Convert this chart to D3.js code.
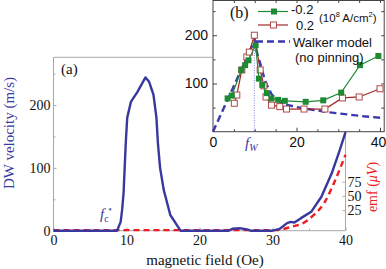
<!DOCTYPE html>
<html>
<head>
<meta charset="utf-8">
<script src="https://cdn.jsdelivr.net/npm/d3@7"></script>
<style>
body { margin: 0; background: #fff; }
svg { display: block; }
</style>
</head>
<body>
<div id="chart"></div>
<script>
// (a) main panel: DW velocity and emf vs magnetic field
var fieldV = [0, 8.7, 9.2, 9.4, 9.6, 9.9, 10.1, 10.6, 11.5, 12.6, 13.1, 13.7, 14.1, 14.3, 14.6, 15.1, 16, 17.4,
	24, 24.5, 25.5, 26.5, 27, 30, 31, 32, 32.5, 33, 33.9, 35.3, 36.7, 38.1, 39.2, 40];
var velocity = [0, 0, 14, 33, 60, 140, 180, 205, 221, 244, 237, 216, 180, 140, 100, 65, 25, 0,
	0, 3, 4, 2, 0, 0, 3, 12, 14, 13, 20, 30, 54, 91, 128, 157];

var fieldE = [0, 30.5, 32.6, 34.3, 35.7, 37.1, 38.5, 40];
var emf = [-10, -10, -4, 3, 17, 38, 75, 122];

// (b) inset: measured velocity for two currents, and Walker model
var fieldNeg = [3.5, 4.5, 6.8, 7.7, 8.5, 10.2, 11, 11.8, 12.9, 14, 15.6, 17.2, 22.2, 26.4, 30.7, 35.2, 39.6];
var velNeg = [69, 75, 128, 138, 148, 179, 110, 97, 80, 69, 66, 64, 62, 65, 81, 138, 157];

var fieldPos = [5.1, 5.7, 6.9, 8.1, 8.7, 9.9, 11.3, 12.2, 12.7, 14, 16, 17.6, 21.8, 26.8, 31, 35, 40];
var velPos = [59, 76, 128, 155, 165, 200, 128, 95, 72, 55, 52, 47, 47, 47, 70, 72, 89];

var fieldW = [0, 10, 10.3, 10.8, 11.3, 12, 12.5, 13, 14, 15, 17, 20, 22, 25, 27, 30, 33, 36, 41];
var velW = [0, 190, 172, 155, 142, 120, 105, 95, 78, 68, 57, 51, 48, 44, 41, 38, 35, 32, 28];
var fW = 9.9;

var xTicksA = [0, 10, 20, 30, 40];
var yTicksA = [0, 100, 200];
var emfTicks = [25, 50, 75];
var xTicksB = [0, 20, 40];
var yTicksB = [100, 200];

var width = 386, height = 269;
var serif = "'Liberation Serif', 'DejaVu Serif', serif";
var sans = "'Liberation Sans', Arial, sans-serif";
var blue = "#38389e", red = "#ec1c24", green = "#1e8a34", maroon = "#a02828";

var svg = d3.select("#chart")
	.append("svg")
	.attr("width", width)
	.attr("height", height);

// ---------- main panel ----------
var x = d3.scaleLinear().domain([0, 40]).range([53.5, 345.5]);
var y = d3.scaleLinear().domain([0, 276]).range([230.7, 57.3]);
var yE = d3.scaleLinear().domain([-11, 293]).range([230.7, 57.3]);

var frame = "#a8a8a8";

// ticks (inside)
var gx = svg.append("g")
	.attr("transform", "translate(0," + y(0) + ")")
	.call(d3.axisBottom(x).tickValues(xTicksA).tickSize(-3).tickPadding(6));
svg.append("g")
	.attr("transform", "translate(0," + y(0) + ")")
	.call(d3.axisBottom(x).tickValues([5, 15, 25, 35]).tickSize(-2).tickFormat(""));
var gy = svg.append("g")
	.attr("transform", "translate(" + x(0) + ",0)")
	.call(d3.axisLeft(y).tickValues(yTicksA).tickSize(-3).tickPadding(3));
svg.append("g")
	.attr("transform", "translate(" + x(0) + ",0)")
	.call(d3.axisLeft(y).tickValues([50, 150, 250]).tickSize(-2).tickFormat(""));
var ge = svg.append("g")
	.attr("transform", "translate(" + x(40) + ",0)")
	.call(d3.axisRight(yE).tickValues(emfTicks).tickSize(-3).tickPadding(2));

svg.selectAll(".domain").remove();
svg.selectAll(".tick line").attr("stroke", frame);
[gx, gy, ge].forEach(function(g) {
	g.selectAll("text")
		.attr("fill", "#111")
		.style("font-family", serif)
		.style("font-size", "14px");
});
gx.selectAll("text").attr("dy", "0.6em");

// frame lines
svg.append("path")
	.attr("fill", "none")
	.attr("stroke", frame)
	.attr("stroke-width", 1)
	.attr("d", "M212," + y(276) + "H" + x(0) + "V" + y(0) + "H" + x(40) + "V131.7");

// emf (red dashed) under velocity
svg.append("path")
	.datum(d3.zip(fieldE, emf))
	.attr("fill", "none")
	.attr("stroke", red)
	.attr("stroke-width", 2.4)
	.attr("stroke-dasharray", "6,4")
	.attr("d", d3.line()
		.x(function(d) { return x(d[0]) })
		.y(function(d) { return yE(d[1]) })
		.curve(d3.curveMonotoneX));

svg.append("path")
	.datum(d3.zip(fieldV, velocity))
	.attr("fill", "none")
	.attr("stroke", blue)
	.attr("stroke-width", 2.4)
	.attr("stroke-linejoin", "round")
	.attr("d", d3.line()
		.x(function(d) { return x(d[0]) })
		.y(function(d) { return y(d[1]) }));

// labels
svg.append("text")
	.attr("transform", "translate(14,133) rotate(-90)")
	.attr("text-anchor", "middle")
	.attr("fill", blue)
	.style("font-family", serif)
	.style("font-size", "15px")
	.text("DW velocity (m/s)");

svg.append("text")
	.attr("x", 205).attr("y", 265)
	.attr("text-anchor", "middle")
	.attr("fill", "#111")
	.style("font-family", serif)
	.style("font-size", "15px")
	.text("magnetic field (Oe)");

var emfLab = svg.append("text")
	.attr("transform", "translate(377,187) rotate(-90)")
	.attr("text-anchor", "middle")
	.attr("fill", red)
	.style("font-family", serif)
	.style("font-size", "14px");
emfLab.append("tspan").text("emf (");
emfLab.append("tspan").style("font-style", "italic").text("μV");
emfLab.append("tspan").text(")");

svg.append("text")
	.attr("x", 61).attr("y", 74)
	.attr("fill", "#111")
	.style("font-family", serif)
	.style("font-size", "15px")
	.text("(a)");

var fc = svg.append("text")
	.attr("x", 100).attr("y", 219)
	.attr("fill", blue)
	.style("font-family", serif)
	.style("font-size", "15px");
fc.append("tspan").style("font-style", "italic").text("f");
fc.append("tspan").attr("dy", 3).style("font-size", "10px").text("c");
svg.append("text")
	.attr("x", 110).attr("y", 212)
	.attr("text-anchor", "middle")
	.attr("fill", blue)
	.style("font-family", "'DejaVu Sans', sans-serif")
	.style("font-size", "9px")
	.text("\u22C6");

// ---------- inset ----------
var xi = d3.scaleLinear().domain([0, 41]).range([213, 384.2]);
var yi = d3.scaleLinear().domain([0, 272]).range([131.7, 0.5]);
var ink = "#444";

svg.append("rect")
	.attr("x", xi(0)).attr("y", yi(272))
	.attr("width", xi(41) - xi(0))
	.attr("height", yi(0) - yi(272))
	.attr("fill", "#fff")
	.attr("stroke", ink)
	.attr("stroke-width", 1);

var inset = svg.append("g").attr("class", "inset");
var ib = inset.append("g").attr("transform", "translate(0," + yi(0) + ")")
	.call(d3.axisBottom(xi).tickValues(xTicksB).tickSize(-4).tickPadding(5));
inset.append("g").attr("transform", "translate(0," + yi(0) + ")")
	.call(d3.axisBottom(xi).tickValues([5, 10, 15, 25, 30, 35]).tickSize(-2.5).tickFormat(""));
inset.append("g").attr("transform", "translate(0," + yi(272) + ")")
	.call(d3.axisTop(xi).tickValues([5, 10, 15, 20, 25, 30, 35, 40]).tickSize(-2.5).tickFormat(""));
var il = inset.append("g").attr("transform", "translate(" + xi(0) + ",0)")
	.call(d3.axisLeft(yi).tickValues(yTicksB).tickSize(-4).tickPadding(5));
inset.append("g").attr("transform", "translate(" + xi(0) + ",0)")
	.call(d3.axisLeft(yi).tickValues([50, 150, 250]).tickSize(-2.5).tickFormat(""));
inset.append("g").attr("transform", "translate(" + xi(41) + ",0)")
	.call(d3.axisRight(yi).tickValues([50, 100, 150, 200, 250]).tickSize(-3).tickFormat(""));

inset.selectAll(".domain").remove();
inset.selectAll(".tick line").attr("stroke", ink);
[ib, il].forEach(function(g) {
	g.selectAll("text")
		.attr("fill", "#111")
		.style("font-family", sans)
		.style("font-size", "14px");
});
ib.selectAll("text").filter(function(d) { return d === 40; }).attr("dx", "-0.15em");

// Walker model, then fW marker
svg.append("path")
	.datum(d3.zip(fieldW, velW))
	.attr("fill", "none")
	.attr("stroke", "#3a3aae")
	.attr("stroke-width", 2.4)
	.attr("stroke-dasharray", "7,4")
	.attr("d", d3.line()
		.x(function(d) { return xi(d[0]) })
		.y(function(d) { return yi(d[1]) }));

svg.append("line")
	.attr("x1", xi(fW)).attr("x2", xi(fW))
	.attr("y1", yi(190)).attr("y2", yi(0))
	.attr("stroke", "#5a5ad8")
	.attr("stroke-width", 0.8)
	.attr("stroke-dasharray", "1,1.5");

// +0.2 series (open squares)
svg.append("path")
	.datum(d3.zip(fieldPos, velPos))
	.attr("fill", "none")
	.attr("stroke", maroon)
	.attr("stroke-width", 1.2)
	.attr("d", d3.line()
		.x(function(d) { return xi(d[0]) })
		.y(function(d) { return yi(d[1]) }));
svg.selectAll(".sqPos")
	.data(d3.zip(fieldPos, velPos))
	.enter().append("rect")
	.attr("class", "sqPos")
	.attr("x", function(d) { return xi(d[0]) - 3 })
	.attr("y", function(d) { return yi(d[1]) - 3 })
	.attr("width", 6).attr("height", 6)
	.attr("fill", "#fff")
	.attr("stroke", "#b04848")
	.attr("stroke-width", 1);

// -0.2 series (filled squares)
svg.append("path")
	.datum(d3.zip(fieldNeg, velNeg))
	.attr("fill", "none")
	.attr("stroke", green)
	.attr("stroke-width", 1.2)
	.attr("d", d3.line()
		.x(function(d) { return xi(d[0]) })
		.y(function(d) { return yi(d[1]) }));
svg.selectAll(".sqNeg")
	.data(d3.zip(fieldNeg, velNeg))
	.enter().append("rect")
	.attr("class", "sqNeg")
	.attr("x", function(d) { return xi(d[0]) - 3 })
	.attr("y", function(d) { return yi(d[1]) - 3 })
	.attr("width", 6).attr("height", 6)
	.attr("fill", green);

// legend
svg.append("line").attr("x1", 258).attr("x2", 288).attr("y1", 11.5).attr("y2", 11.5)
	.attr("stroke", green).attr("stroke-width", 1.2);
svg.append("rect").attr("x", 271).attr("y", 8.5).attr("width", 6).attr("height", 6).attr("fill", green);
svg.append("line").attr("x1", 258).attr("x2", 288).attr("y1", 25).attr("y2", 25)
	.attr("stroke", maroon).attr("stroke-width", 1.2);
svg.append("rect").attr("x", 270.5).attr("y", 22).attr("width", 6).attr("height", 6)
	.attr("fill", "#fff").attr("stroke", "#b04848");
svg.append("line").attr("x1", 256).attr("x2", 290).attr("y1", 41.5).attr("y2", 41.5)
	.attr("stroke", "#3a3aae").attr("stroke-width", 2.4).attr("stroke-dasharray", "7,4");

var lg = svg.append("g").style("font-family", sans).attr("fill", "#111");
lg.append("text").attr("x", 291).attr("y", 14).style("font-size", "13px").text("-0.2");
lg.append("text").attr("x", 296).attr("y", 29.5).style("font-size", "13px").text("0.2");
var unit = lg.append("text").attr("x", 319).attr("y", 21.5).style("font-size", "11.5px");
unit.append("tspan").text("(10");
unit.append("tspan").attr("dy", -5).style("font-size", "7.5px").text("8");
unit.append("tspan").attr("dy", 5).text(" A/cm");
unit.append("tspan").attr("dy", -5).style("font-size", "7.5px").text("2");
unit.append("tspan").attr("dy", 5).text(")");
lg.append("text").attr("x", 293).attr("y", 47).style("font-size", "13px").text("Walker model");
lg.append("text").attr("x", 295).attr("y", 62).style("font-size", "13px").text("(no pinning)");

svg.append("text")
	.attr("x", 230).attr("y", 18)
	.attr("fill", "#111")
	.style("font-family", serif)
	.style("font-size", "16px")
	.text("(b)");

var fw = svg.append("text")
	.attr("x", 245).attr("y", 148)
	.attr("fill", blue)
	.style("font-family", serif)
	.style("font-size", "15px");
fw.append("tspan").style("font-style", "italic").text("f");
fw.append("tspan").attr("dy", 3).style("font-size", "10px").style("font-style", "italic").text("W");
</script>
</body>
</html>
